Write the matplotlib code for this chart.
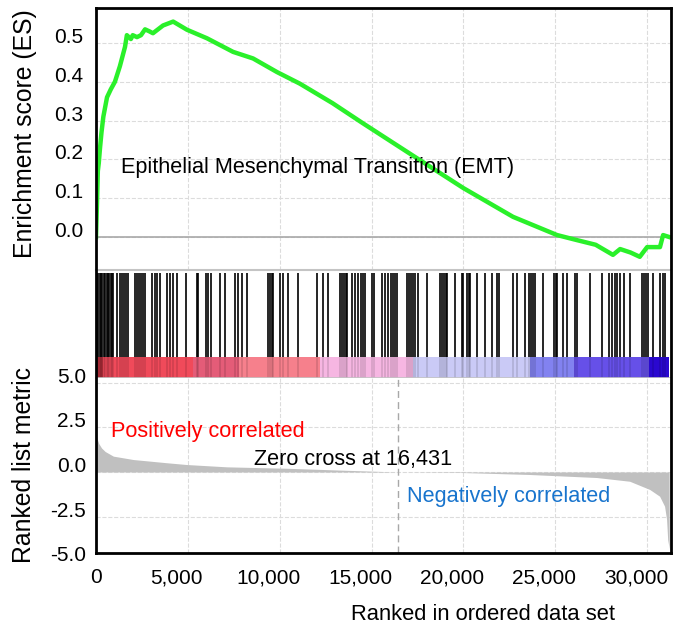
"""GSEA enrichment plot: Epithelial Mesenchymal Transition (EMT)."""

import matplotlib
matplotlib.use("Agg")
import matplotlib.pyplot as plt
from matplotlib.ticker import FuncFormatter
from matplotlib.transforms import ScaledTranslation

plt.rcParams.update({
    "font.family": "Liberation Sans",
    "font.size": 15,
})

# ---- data ----
n_genes = 31200
zero_cross = 16431

# running enrichment score (rank, ES)
es_rank = [0, 50, 100, 150, 220, 300, 400, 600, 800, 1030, 1300, 1580, 1680,
           1900, 2000, 2230, 2450, 2670, 2900, 3100, 3650, 4200, 4950, 6040,
           7460, 8550, 9850, 11100, 12870, 14530, 17470, 20000, 22700, 25100,
           26180, 27200, 28140, 28530, 29100, 29600, 30000, 30700, 30870, 31200]
es_score = [0.0, 0.08, 0.17, 0.19, 0.23, 0.27, 0.31, 0.36, 0.38, 0.40, 0.44,
            0.49, 0.52, 0.51, 0.52, 0.515, 0.52, 0.535, 0.53, 0.525, 0.545,
            0.555, 0.534, 0.512, 0.477, 0.46, 0.425, 0.395, 0.345, 0.293,
            0.203, 0.126, 0.052, 0.005, -0.008, -0.02, -0.046, -0.031, -0.04,
            -0.051, -0.026, -0.026, 0.005, 0.0]

# gene-set members (positions in the ranked list)
hit_ranks = [50, 120, 200, 280, 350, 430, 500, 580, 650, 720, 800, 870, 925,
             1140, 1300, 1415, 1520, 1630, 1740, 2120, 2230, 2340, 2450, 2560,
             2670, 3050, 3210, 3320, 3480, 3860, 4030, 4190, 4400, 4900, 5490,
             5550, 5980, 6090, 6260, 6750, 7020, 7560, 7720, 7940, 8210, 9360,
             9470, 9570, 9630, 10010, 10170, 10440, 10990, 12020, 12350, 12620,
             13270, 13380, 13490, 13600, 13650, 13930, 14090, 14250, 14420,
             14520, 14630, 15020, 15120, 15560, 15720, 15880, 16050, 16160,
             16270, 16370, 16920, 17030, 17140, 17240, 17350, 17520, 18010,
             18710, 18820, 18930, 19040, 19090, 19530, 19910, 19960, 20180,
             20290, 20350, 20730, 21160, 21540, 21810, 21920, 22690, 22900,
             23340, 23560, 23660, 23770, 23880, 24320, 24920, 25020, 25080,
             25400, 25620, 26060, 26170, 26870, 27530, 27910, 28070, 28230,
             28340, 28510, 28720, 29050, 29700, 29810, 29920, 30030, 30300,
             30680, 30840, 30950]

# ranked list metric (rank, value)
metric_rank = [0, 50, 150, 300, 500, 943, 2030, 2940, 3845, 4930, 7110, 10370,
               13500, 16431, 19960, 23600, 27250, 29050, 30140, 30680, 30950,
               31060, 31120, 31170, 31200]
metric_val = [2.2, 1.9, 1.6, 1.35, 1.15, 0.89, 0.70, 0.61, 0.52, 0.42, 0.29,
              0.21, 0.1, 0.0, -0.03, -0.14, -0.31, -0.52, -0.98, -1.36, -1.92,
              -2.67, -3.8, -4.1, -4.3]

# heat-map strip under the hits (segment edges in rank, colours)
strip_edges = [0, 380, 5300, 7800, 12200, 17250, 23600, 26000, 30100, 31200]
strip_colors = ["#b8303c", "#f04a5a", "#e45c78", "#f6808c", "#f6b6e2",
                "#cacaf6", "#8282f0", "#6650e8", "#2a08d0"]

x_ticks = [0, 5000, 10000, 15000, 20000, 25000, 30000]
es_ticks = [0.0, 0.1, 0.2, 0.3, 0.4, 0.5]
metric_ticks = [-2.5, 0.0, 2.5, 5.0]

# ---- layout (pixel boxes of the reference) ----
W, H = 673, 627
fig = plt.figure(figsize=(W / 100, H / 100), dpi=100)


def box(top, bottom, left=96, right=671):
    return [left / W, 1 - bottom / H, (right - left) / W, (bottom - top) / H]


ax_es = fig.add_axes(box(8, 270))
ax_hits = fig.add_axes(box(270, 357))
ax_strip = fig.add_axes(box(357, 378))
ax_rank = fig.add_axes(box(378, 553))
ax_frame = fig.add_axes(box(8, 553), zorder=10)

xlim = (0, 31300)
grid_kw = dict(color="#dcdcdc", linestyle="--", linewidth=0.8)

# enrichment score panel
ax_es.plot(es_rank, es_score, color="#2af02a", linewidth=3.2, solid_joinstyle="round")
ax_es.axhline(0, color="#a8a8a8", linewidth=1.2, zorder=1)
ax_es.set_xlim(xlim)
ax_es.set_ylim(-0.085, 0.59)
ax_es.set_yticks(es_ticks, labels=[f"{t:.1f}" for t in es_ticks])
ax_es.set_xticks(x_ticks, labels=[])
ax_es.grid(True, **grid_kw)
ax_es.set_axisbelow(True)
ax_es.tick_params(length=0, axis="y", pad=9)
ax_es.tick_params(length=0, axis="x")
for lbl in ax_es.get_yticklabels():
    lbl.set_va("baseline")
for s in ["top", "left", "right"]:
    ax_es.spines[s].set_visible(False)
ax_es.spines["bottom"].set_color("#c4c4c4")
ax_es.spines["bottom"].set_linewidth(1.5)
ax_es.text(1360, 0.178, "Epithelial Mesenchymal Transition (EMT)",
           fontsize=15.6, ha="left", va="center")

# hit marks
ax_hits.vlines(hit_ranks, 0, 0.965, color="black", linewidth=1.2)
ax_hits.set_xlim(xlim)
ax_hits.set_ylim(0, 1)
ax_hits.axis("off")

# heat-map strip
for i, c in enumerate(strip_colors):
    ax_strip.axvspan(strip_edges[i], strip_edges[i + 1], color=c, linewidth=0)
ax_strip.vlines(hit_ranks, 0, 1, color="black", alpha=0.13, linewidth=1.2)
ax_strip.set_xlim(xlim)
ax_strip.set_ylim(0, 1)
ax_strip.set_xticks([])
ax_strip.set_yticks([])
for s in ["top", "left", "right"]:
    ax_strip.spines[s].set_visible(False)
ax_strip.spines["bottom"].set_color("#c4c4c4")
ax_strip.spines["bottom"].set_linewidth(1.2)

# ranked list metric panel
ax_rank.fill_between(metric_rank, metric_val, 0, color="#c0c0c0", linewidth=0)
ax_rank.axvline(zero_cross, color="#a8a8a8", linestyle=(0, (5, 3)), linewidth=1)
ax_rank.set_xlim(xlim)
ax_rank.set_ylim(-4.55, 5.28)
ax_rank.set_xticks(x_ticks)
ax_rank.xaxis.set_major_formatter(FuncFormatter(lambda v, _: f"{int(v):,}"))
ax_rank.set_yticks(metric_ticks, labels=[f"{t:.1f}" for t in metric_ticks])
ax_rank.grid(True, **grid_kw)
ax_rank.set_axisbelow(True)
ax_rank.tick_params(length=0, axis="y", pad=7)
ax_rank.tick_params(length=0, axis="x", pad=11)
for lbl in ax_rank.get_yticklabels():
    lbl.set_va("baseline")
# the reference draws the thousands labels a little left of their grid lines
shift = ScaledTranslation(-11 / 100, 0, fig.dpi_scale_trans)
for lbl in ax_rank.get_xticklabels()[1:]:
    lbl.set_transform(lbl.get_transform() + shift)
ax_rank.annotate("-5.0", xy=(0, -5.0), xycoords=("axes fraction", "data"),
                 xytext=(-7, 0), textcoords="offset points", ha="right",
                 va="baseline", fontsize=15, annotation_clip=False)
for s in ax_rank.spines.values():
    s.set_visible(False)

ax_rank.text(816, 2.28, "Positively correlated", color="#ff0000",
             fontsize=15.6, ha="left", va="center")
ax_rank.text(8600, 0.70, f"Zero cross at {zero_cross:,}", color="black",
             fontsize=15.6, ha="left", va="center")
ax_rank.text(16920, -1.38, "Negatively correlated", color="#1874cd",
             fontsize=15.6, ha="left", va="center")

# outer frame
ax_frame.patch.set_visible(False)
ax_frame.set_xticks([])
ax_frame.set_yticks([])
for s in ax_frame.spines.values():
    s.set_linewidth(2)
    s.set_color("black")

fig.text(25 / W, 1 - 134 / H, "Enrichment score (ES)", rotation=90,
         fontsize=17.8, ha="center", va="center")
fig.text(24 / W, 1 - 465 / H, "Ranked list metric", rotation=90,
         fontsize=17.8, ha="center", va="center")
fig.text(483 / W, 1 - 615 / H, "Ranked in ordered data set",
         fontsize=15.8, ha="center", va="center")

fig.savefig("out.png", dpi=100)
